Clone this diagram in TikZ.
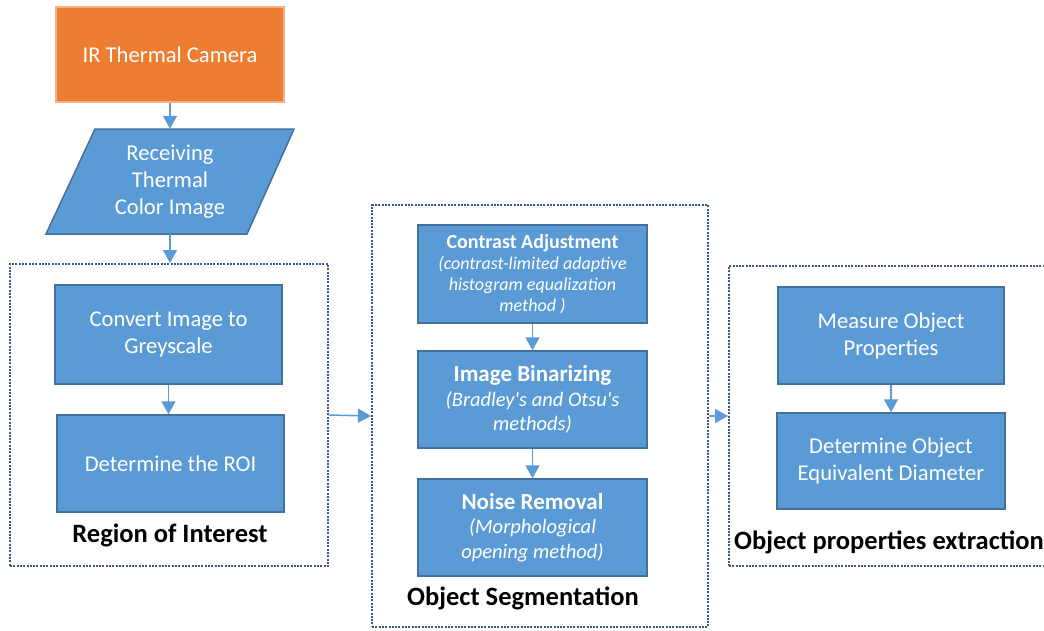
\documentclass[tikz,border=0pt]{standalone}
\usepackage{fontspec}
\setmainfont{Carlito}
\usetikzlibrary{arrows.meta}
\definecolor{boxfill}{HTML}{5B9BD5}
\definecolor{boxline}{HTML}{41719C}
\definecolor{camfill}{HTML}{ED7D31}
\definecolor{camline}{HTML}{F4B183}
\definecolor{dotline}{HTML}{3B5A80}
\begin{document}
\begin{tikzpicture}[x=1pt,y=-1pt,
 proc/.style={draw=boxline, line width=1.5pt, fill=boxfill, text=white, align=center, inner sep=0pt, font=\fontsize{22.6}{27}\selectfont},
 group/.style={draw=dotline, line width=2pt, dash pattern=on 2pt off 1.3pt, inner sep=0pt},
 flow/.style={draw=boxfill, line width=1.5pt, -{Triangle[width=14pt,length=13pt]}},
 grouplabel/.style={font=\bfseries\fontsize{26.5}{31}\selectfont, text=black, inner sep=0pt}
]
\clip (0,0) rectangle (1044,630);
\fill[white] (0,0) rectangle (1044,630);

% camera
\node[proc, fill=camfill, draw=camline, minimum width=228pt, minimum height=95pt] (cam) at (170,54.5) {IR Thermal Camera};

% parallelogram
\draw[draw=boxline, line width=1.5pt, fill=boxfill] (46,234) -- (247,234) -- (294,129) -- (95,129) -- cycle;
\node[text=white, align=center, inner sep=0pt, font=\fontsize{22.6}{27}\selectfont, minimum width=200pt, minimum height=105pt] (para) at (170,181.5) {Receiving\\Thermal\\Color Image};

% groups
\node[group, minimum width=318pt, minimum height=302pt] (roi) at (169,415) {};
\node[group, minimum width=336pt, minimum height=422pt] (seg) at (540,416) {};
\node[group, minimum width=323pt, minimum height=300pt] (prop) at (890.5,416) {};

% ROI boxes
\node[proc, minimum width=227pt, minimum height=99pt] (conv) at (168.5,334.5) {Convert Image to\\Greyscale};
\node[proc, minimum width=227pt, minimum height=97pt] (det) at (170.5,463.5) {Determine the ROI};
\node[grouplabel] (roilabel) at (170,535) {Region of Interest};

% segmentation boxes
\node[proc, minimum width=229pt, minimum height=98pt, font=\itshape\fontsize{18}{21}\selectfont] (contr) at (532.5,274)
 {{\upshape\bfseries\fontsize{20}{24}\selectfont Contrast Adjustment}\\(contrast-limited adaptive\\histogram equalization\\method )};
\node[proc, minimum width=229pt, minimum height=97pt, font=\itshape\fontsize{20.5}{24.5}\selectfont] (bin) at (532.5,399.5)
 {{\upshape\bfseries\fontsize{23}{25}\selectfont Image Binarizing}\\(Bradley\textquotesingle s and Otsu\textquotesingle s\\methods)};
\node[proc, minimum width=229pt, minimum height=97pt, font=\itshape\fontsize{20.5}{24.5}\selectfont] (noise) at (532.5,527.5)
 {{\upshape\bfseries\fontsize{23}{25}\selectfont Noise Removal}\\(Morphological\\opening method)};
\node[grouplabel] (seglabel) at (523,598) {Object Segmentation};

% properties boxes
\node[proc, minimum width=226pt, minimum height=97pt] (meas) at (891,335.5) {Measure Object\\Properties};
\node[proc, minimum width=228pt, minimum height=96pt] (diam) at (891,461) {Determine Object\\Equivalent Diameter};
\node[grouplabel] (proplabel) at (889,542) {Object properties extraction};

% connectors
\draw[flow] (cam.south) -- (para.north);
\draw[flow] (para.south) -- (para.south |- roi.north);
\draw[flow] (conv.south) -- (conv.south |- det.north);
\draw[flow] (roi.east) -- (seg.west);
\draw[flow] (contr.south) -- (bin.north);
\draw[flow] (bin.south) -- (noise.north);
\draw[flow] (seg.east) -- (prop.west);
\draw[flow] (meas.south) -- (meas.south |- diam.north);
\end{tikzpicture}
\end{document}
